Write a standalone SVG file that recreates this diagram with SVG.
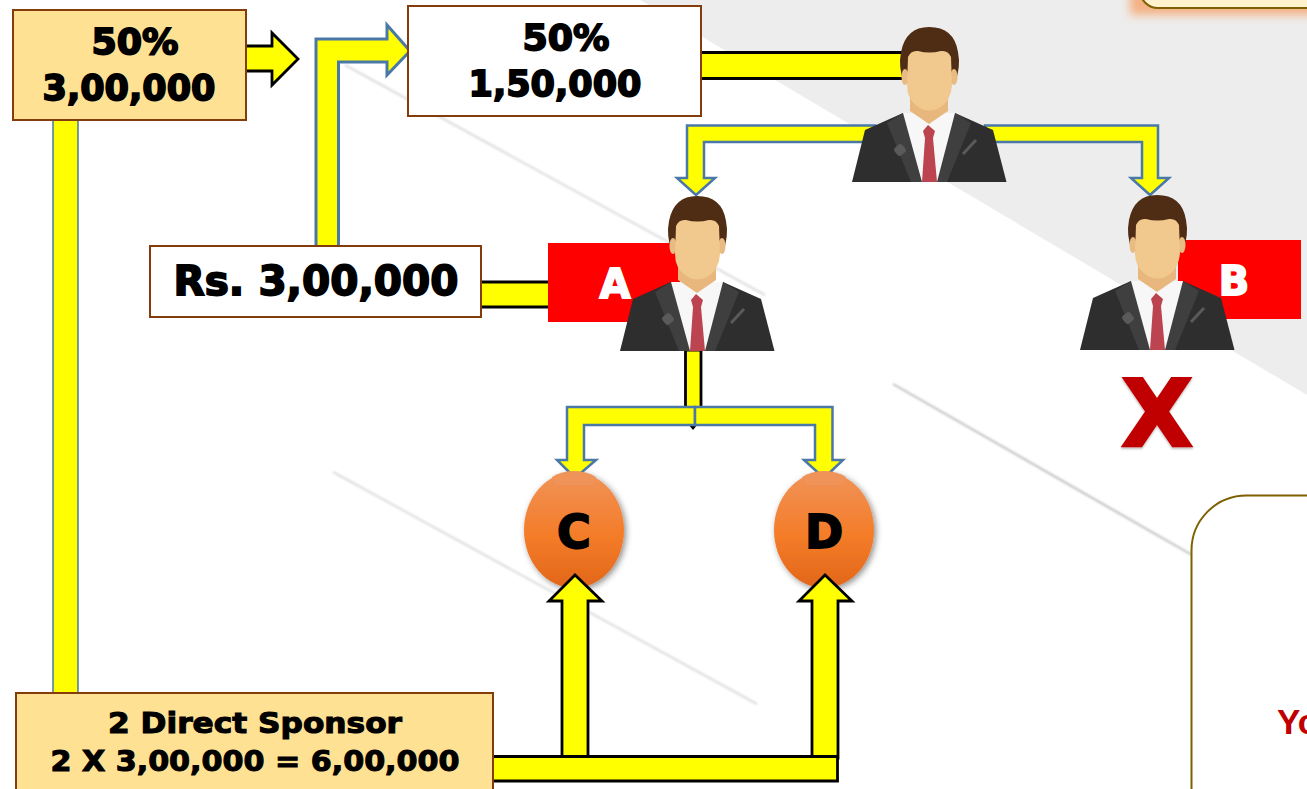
<svg xmlns="http://www.w3.org/2000/svg" width="1307" height="789" viewBox="0 0 1307 789">
<defs>
<linearGradient id="eg" x1="0" y1="0" x2="0" y2="1"><stop offset="0" stop-color="#f09359"/><stop offset=".55" stop-color="#f47c28"/><stop offset="1" stop-color="#e2661a"/></linearGradient>
<filter id="sh" x="-20%" y="-20%" width="140%" height="140%"><feDropShadow dx="2" dy="2" stdDeviation="3" flood-color="#000" flood-opacity=".45"/></filter>
<filter id="glow" filterUnits="userSpaceOnUse" x="1090" y="-40" width="260" height="90"><feGaussianBlur stdDeviation="5"/></filter>
<filter id="bl"><feGaussianBlur stdDeviation=".8"/></filter>
<filter id="xs" x="-10%" y="-10%" width="120%" height="120%"><feDropShadow dx="0" dy="1.500" stdDeviation="1" flood-color="#000" flood-opacity=".3"/></filter>
<g id="person">
<path d="M1 155 L14 103 L52 86 L104 86 L142 103 L155.500 155 Z" fill="#2e2e2e"/>
<path d="M36 96 L52 86 L72 155 L60 155 Z" fill="#3f3f3f"/>
<path d="M120 96 L104 86 L84 155 L96 155 Z" fill="#3f3f3f"/>
<path d="M52 86 L104 86 L86 155 L71 155 Z" fill="#f7f7f7"/>
<path d="M59 66 H97 V84 L78 97 L59 84 Z" fill="#e8b77d"/>
<path d="M72 104 L77 98 L84 104 L82 111 L86 155 L71 155 L74 111 Z" fill="#bb4450"/>
<path d="M53 56 Q47 40 50 25 Q55 0 78 0 Q103 0 107 25 Q110 40 104 56 Z" fill="#4f2c14"/>
<ellipse cx="54" cy="50" rx="3.500" ry="8" fill="#e8bb82"/><ellipse cx="103" cy="50" rx="3.500" ry="8" fill="#e8bb82"/>
<path d="M57 30 Q60 23 67 24 Q78 27 90 24 Q97 23 100 30 L101 58 Q100 72 91 79 Q78 88 66 79 Q56 72 56 58 Z" fill="#f1c98e"/>
<rect x="44" y="118" width="10" height="10" rx="3" fill="#5a5a5a" transform="rotate(-40 49 123)"/>
<path d="M112 127 L125 113" stroke="#5a5a5a" stroke-width="3"/>
</g>
</defs>
<style>
.box{stroke:#843c0c;stroke-width:2}
.bk{fill:#ff0;stroke:#000;stroke-width:2.800}
.bl{fill:#ff0;stroke:#4a78a8;stroke-width:3}
.t{font-family:"DejaVu Sans","Liberation Sans",sans-serif;font-weight:700;fill:#000;stroke:#000;stroke-width:1.800;text-anchor:middle}
.s{stroke-width:1.100}
.w{fill:#fff;stroke:#fff}
</style>
<rect width="1307" height="789" fill="#fff"/>
<path d="M640 0 H1307 V395 Z" fill="#ededed"/>
<g fill="none" filter="url(#bl)">
<path d="M345 65 L765 295" stroke="#dcdcdc" stroke-width="2"/><path d="M893 384 L1192 555" stroke="#bdbdbd" stroke-width="2"/><path d="M333 472 L757 704" stroke="#dcdcdc" stroke-width="2"/>
</g>
<path d="M1130 -30 V15 H1320 V-30 Z" fill="#f4b183" filter="url(#glow)"/>
<g id="node-c"><ellipse cx="574" cy="530" rx="50" ry="58" fill="url(#eg)" filter="url(#sh)"/><text class="t" x="574" y="548" font-size="46">C</text></g>
<g id="node-d"><ellipse cx="824" cy="530" rx="50" ry="58" fill="url(#eg)" filter="url(#sh)"/><text class="t" x="824" y="548" font-size="46">D</text></g>
<g id="connectors">
<path class="bl" d="M53 118 H78 V695 H53 Z" style="stroke-width:1.500"/>
<path class="bk" d="M244 46 H272 V33 L298 59 L272 85 V71 H244 Z"/>
<path class="bl" d="M316 247 V39 H387 V25 L410 51 L387 75 V62 H338.500 V247 Z"/>
<path class="bk" d="M699 52.500 H905 V78.500 H699 Z"/>
<path class="bl" d="M875 125.500 H687 V178 H677 L696 195 L715 178 H704 V142 H875 Z" style="stroke-width:2.500"/>
<path class="bl" d="M985 125.500 H1158 V178 H1169 L1150 195 L1131 178 H1142 V142 H985 Z" style="stroke-width:2.500"/>
<path class="bk" d="M479 282 H552 V307 H479 Z"/>
<path class="bk" d="M685.500 350 H701 V408 H685.500 Z"/>
<path d="M688 424 H698 L693 430 Z" fill="#000"/>
<path class="bl" d="M695 407 H567 V460 H557 L575 478 L596 460 H584 V425 H695 Z" style="stroke-width:2.500"/>
<path class="bl" d="M695 407 H832.500 V460 H843 L824 478 L804 460 H815 V425 H695 Z" style="stroke-width:2.500"/>
<path class="bk" d="M562 758 V601 H549 L575 575 L602 601 H588 V758 Z"/>
<path class="bk" d="M812 758 V601 H799 L825 575 L852 601 H838 V758 Z"/>
<path class="bk" d="M490 756.500 H837.500 V781 H490 Z"/>
</g>
<path d="M574 472 m-22 5 a50 58 0 0 1 44 0 l-4 8 h-36 Z" fill="#f09359"/>
<path d="M824 472 m-22 5 a50 58 0 0 1 44 0 l-4 8 h-36 Z" fill="#f09359"/>
<g id="node-left-top"><rect class="box" x="13" y="10" width="233" height="110" fill="#ffe194"/>
<text class="t" x="135" y="54" font-size="36" textLength="87" lengthAdjust="spacingAndGlyphs">50%</text>
<text class="t" x="129" y="100" font-size="36" textLength="173" lengthAdjust="spacingAndGlyphs">3,00,000</text></g>
<g id="node-top"><rect class="box" x="408" y="6" width="293" height="110" fill="#fff"/>
<text class="t" x="566" y="50" font-size="36" textLength="87" lengthAdjust="spacingAndGlyphs">50%</text>
<text class="t" x="555" y="96" font-size="36" textLength="173" lengthAdjust="spacingAndGlyphs">1,50,000</text></g>
<g id="node-rs"><rect class="box" x="150" y="246" width="331" height="71" fill="#fff"/>
<text class="t" x="316" y="295" font-size="41" textLength="285" lengthAdjust="spacingAndGlyphs">Rs. 3,00,000</text></g>
<g id="node-a"><rect x="548" y="243" width="132" height="79" fill="#f00"/><text class="t w" x="615" y="298" font-size="40">A</text><use href="#person" x="619" y="196"/></g>
<g id="node-b"><rect x="1178" y="240" width="123" height="79" fill="#f00"/><text class="t w" x="1234" y="295" font-size="40">B</text><use href="#person" x="1079" y="195"/></g>
<g id="node-head"><use href="#person" x="851" y="27"/></g>
<g id="node-x"><text x="1157" y="446" font-family="DejaVu Sans" font-weight="700" font-size="93" fill="#c00000" stroke="#c00000" stroke-width="2.500" text-anchor="middle" filter="url(#xs)">X</text></g>
<g id="node-bottom"><rect class="box" x="16" y="693" width="477" height="110" fill="#ffe194"/>
<text class="t s" x="255" y="733" font-size="29" textLength="294" lengthAdjust="spacingAndGlyphs">2 Direct Sponsor</text>
<text class="t s" x="255" y="771" font-size="29" textLength="409" lengthAdjust="spacingAndGlyphs">2 X 3,00,000 = 6,00,000</text></g>
<g id="node-topright"><rect x="1140" y="-60" width="220" height="68" rx="18" fill="#fff2cc" stroke="#7f6000" stroke-width="2"/></g>
<g id="node-note"><rect x="1191.500" y="495.500" width="200" height="360" rx="55" fill="#fff" stroke="#7f6000" stroke-width="2"/>
<text x="1277" y="734" font-family="Liberation Sans" font-weight="700" font-size="35" fill="#c00000">Yo</text></g>
</svg>
